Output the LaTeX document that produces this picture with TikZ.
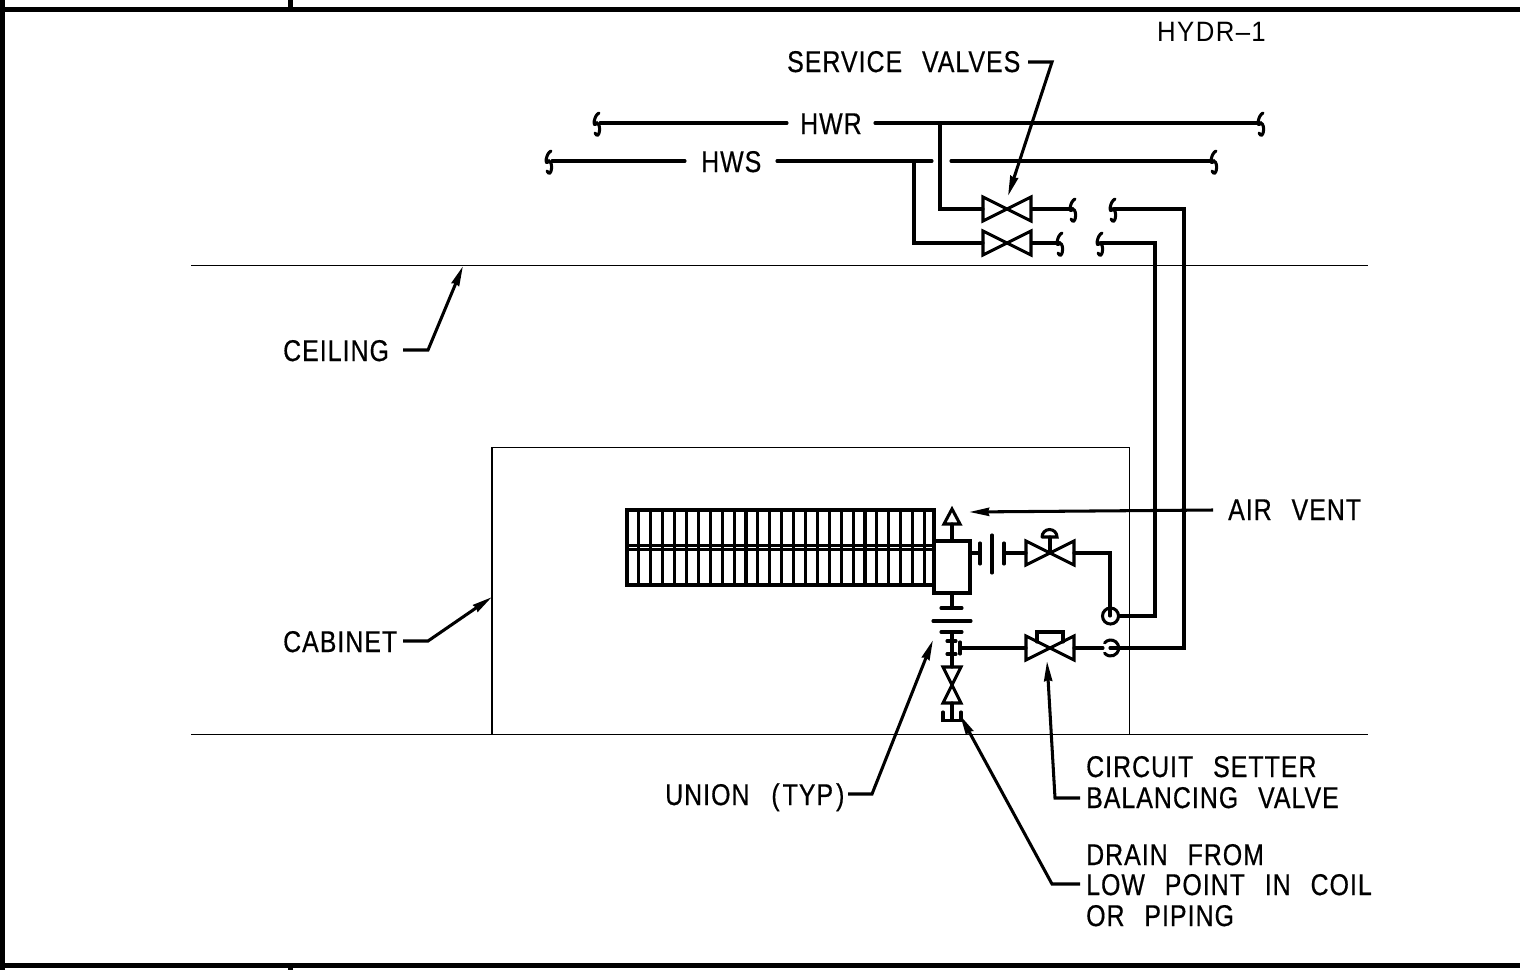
\documentclass[tikz,border=0pt]{standalone}
\usepackage{fontspec}
\usetikzlibrary{arrows.meta,calc}
\newfontfamily\cadfont[FakeStretch=0.83,LetterSpace=3.4,WordSpace=2.5,FakeBold=0.5]{Liberation Sans}
\newfontfamily\cadthin[FakeStretch=0.92,LetterSpace=5,WordSpace=2.5]{Liberation Sans}
\tikzset{
  x=1pt,y=-1pt,
  pipe/.style={line width=3.05pt,line cap=round,line join=miter},
  thin line/.style={line width=1.2pt},
  frame line/.style={line width=5pt},
  leader/.style={line width=3.05pt,-{Stealth[length=20pt,width=8pt,inset=1pt]}},
  txt/.style={font=\cadfont\fontsize{30}{30}\selectfont,inner sep=0pt,anchor=base west,text=black},
  hydr/.style={font=\cadthin\fontsize{28}{28}\selectfont,inner sep=0pt,anchor=base west},
  valve/.pic={\draw[pipe] (-24,-12)--(24,12)--(24,-12)--(-24,12)--cycle;}
}
% break symbol
\newcommand{\brk}[2]{\draw[pipe] ($(#1,#2)+(2,-10)$) .. controls +(-5,2) and +(-5,6) .. ($(#1,#2)+(0,0)$) .. controls +(5,2) and +(4,8) .. ($(#1,#2)+(-2,10)$);}
\begin{document}
\begin{tikzpicture}
\useasboundingbox (0,0) rectangle (1520,970);
\fill[white] (0,0) rectangle (1520,970);
% frame
\draw[frame line] (0,9.5)--(1520,9.5);
\draw[frame line] (0,965)--(1520,965);
\draw[frame line] (2,0)--(2,970);
\draw[frame line] (290,0)--(290,9);
\draw[frame line] (290,965)--(290,970);
% ceiling, floor, cabinet
\draw[thin line] (191,265.7)--(1368,265.7);
\draw[thin line] (191,734.7)--(1368,734.7);
\draw[thin line] (492,734.7)--(492,447.7)--(1129.5,447.7)--(1129.5,734.7);
% labels
\node[hydr] (hydr) at (1157,41) {HYDR–1};
\node[txt] (sv) at (787,72) {SERVICE VALVES};
\node[txt] (hwr) at (800,134) {HWR};
\node[txt] (hws) at (701,172) {HWS};
\node[txt] (ceil) at (283,361) {CEILING};
\node[txt] (cab) at (283,652) {CABINET};
\node[txt] (air) at (1228,520) {AIR VENT};
\node[txt] (union) at (665,805) {UNION \kern2pt(\kern3pt TYP\kern3pt)};
\node[txt] (cs1) at (1086,777) {CIRCUIT SETTER};
\node[txt] (cs2) at (1086,808) {BALANCING VALVE};
\node[txt] (dr1) at (1086,865) {DRAIN FROM};
\node[txt] (dr2) at (1086,895) {LOW POINT IN COIL};
\node[txt] (dr3) at (1086,926) {OR PIPING};
% mains
\draw[pipe] (600,123)--(787,123);
\draw[pipe] (875,123)--(1258,123);
\draw[pipe] (552,161)--(685,161);
\draw[pipe] (777,161)--(932,161);
\draw[pipe] (951,161)--(1212,161);
\brk{597}{123}\brk{1261}{123}\brk{549}{161}\brk{1214}{161}
% branches
\draw[pipe] (940,123)--(940,209)--(983,209);
\draw[pipe] (914,161)--(914,243)--(983,243);
\pic at (1007,209) {valve};
\pic at (1007,243) {valve};
\draw[pipe] (1032,209)--(1072,209);
\draw[pipe] (1032,243)--(1059,243);
\brk{1073}{209}\brk{1060}{243}\brk{1113}{209}\brk{1100}{243}
\draw[pipe] (1114,209)--(1184,209)--(1184,648)--(1110,648);
\draw[pipe] (1101,243)--(1155,243)--(1155,616)--(1119,616);
% coil
\draw[pipe,line cap=butt] (627,510) rectangle (934,585);
\draw[pipe,line cap=butt] (627,545.5)--(934,545.5) (627,549.5)--(934,549.5);
\foreach \k in {1,...,25}{\draw[pipe,line cap=butt] ({627+\k*11.9},510)--({627+\k*11.9},585);}
% header box and vent
\draw[pipe,fill=white] (934,541) rectangle (970,593);
\draw[pipe] (952,541)--(952,524);
\draw[pipe,line join=miter] (944,524)--(952,509)--(960,524)--cycle;
% upper union and valve
\draw[pipe] (970,553)--(980,553);
\draw[pipe] (980,543)--(980,564);
\draw[pipe] (992,535)--(992,573);
\draw[pipe] (1004,543)--(1004,564);
\draw[pipe] (1004,553)--(1026,553);
\pic at (1050,553) {valve};
\draw[pipe] (1050,553)--(1050,537);
\draw[pipe] (1042,537)--(1057,537) arc (0:-180:7.5);
\draw[pipe] (1074,553)--(1110,553)--(1110,616);
\draw[pipe] (1110.5,616) circle (8);
% lower union stack
\draw[pipe] (952,593)--(952,608);
\draw[pipe] (941,608)--(962,608);
\draw[pipe] (933,621)--(971,621);
\draw[pipe] (941,632)--(962,632);
\draw[pipe] (952,632)--(952,667);
\draw[pipe] (947,641)--(956,641);
\draw[pipe] (947,654)--(956,654);
\draw[pipe] (960,642)--(960,654);
\draw[pipe] (960,648)--(1026,648);
\pic at (1050,648) {valve};
\draw[pipe] (1037,642)--(1037,632)--(1063,632)--(1063,642);
\draw[pipe] (1074,648)--(1103,648);
\draw[pipe] (1110.7,648) ++(-140:8) arc (-140:140:8);
% drain valve
\draw[pipe] (943,667)--(961,703)--(943,703)--(961,667)--cycle;
\draw[pipe] (952,703)--(952,720);
\draw[pipe] (943,712)--(943,720.5)--(961,720.5)--(961,712);
% leaders
\coordinate (tCeil) at (463,266);
\coordinate (tCab) at (492,597);
\coordinate (tAir) at (969,512);
\coordinate (tSv) at (1008,196);
\coordinate (tUn) at (933,640);
\coordinate (tCs) at (1047,661);
\coordinate (tDr) at (960,715);
\coordinate (sCeil) at (403,350);
\coordinate (sCab) at (403,641);
\coordinate (sAir) at (1213,510);
\coordinate (sSv) at (1028,62);
\coordinate (sUn) at (848,794);
\coordinate (sCs) at (1080,798);
\coordinate (sDr) at (1080,884);
\draw[leader] (sCeil) -- ++(25,0) -- (tCeil);
\draw[leader] (sCab) -- ++(25,0) -- (tCab);
\draw[leader] (sAir) -- (tAir);
\draw[leader] (sSv) -- ++(24,0) -- (tSv);
\draw[leader] (sUn) -- ++(24,0) -- (tUn);
\draw[leader] (sCs) -- ++(-25,0) -- (tCs);
\draw[leader] (sDr) -- ++(-28,0) -- (tDr);
\end{tikzpicture}
\end{document}
